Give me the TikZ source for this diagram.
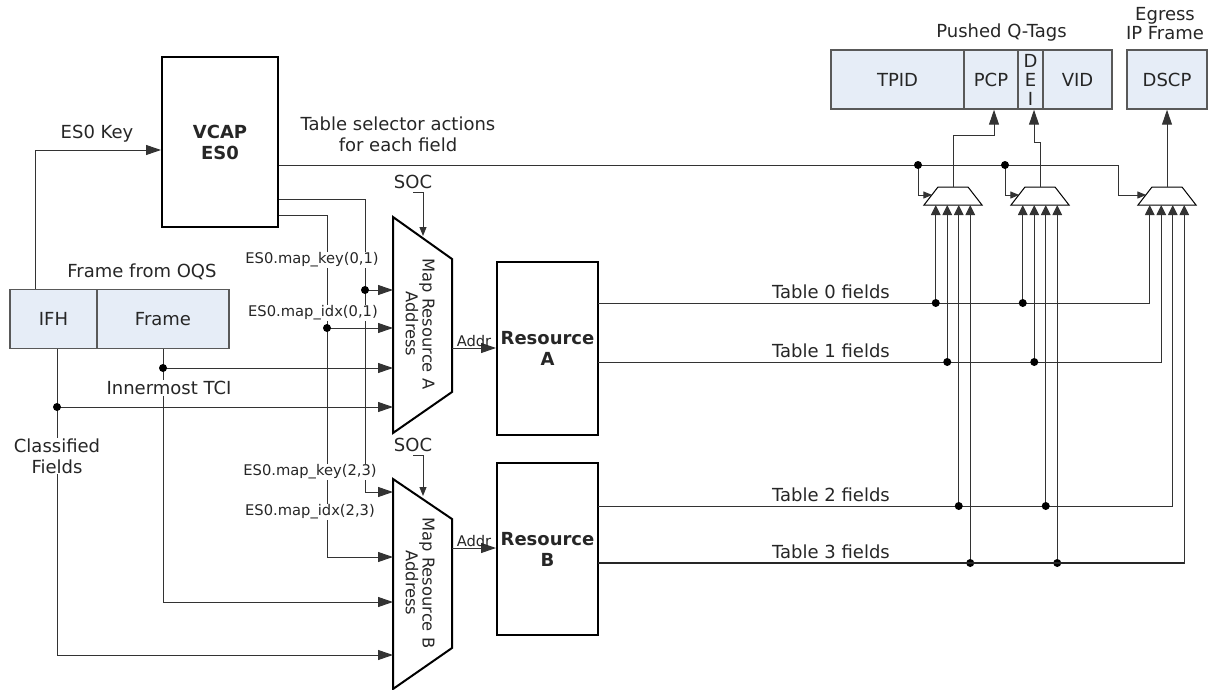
\documentclass[tikz,border=0pt]{standalone}
\usepackage{fontspec}
\setmainfont{DejaVu Sans}
\usepackage{tikz}
\usetikzlibrary{arrows.meta}
\definecolor{fieldblue}{RGB}{230,237,247}

\begin{document}
\begin{tikzpicture}[x=1pt, y=-1pt, >={Triangle[length=15pt,width=10pt]},
  font=\fontsize{18}{21}\selectfont, text=black!85,
  wire/.style={line width=1pt, draw=black!80},
  blkbox/.style={draw=black, line width=2pt, inner sep=0pt, align=center,
    font=\fontsize{18}{21}\selectfont\bfseries},
  fieldbox/.style={draw=black!65, line width=1.5pt, fill=fieldblue,
    inner sep=0pt, minimum height=59pt},
  small/.style={font=\fontsize{14.7}{17}\selectfont},
  gap/.style={fill=white, inner sep=1pt},
  junc/.style={circle, fill=black, inner sep=0pt, minimum size=8pt},
  sarr/.style={-{Triangle[length=10pt,width=9.5pt]}},
  selarr/.style={-{Triangle[length=9pt,width=7pt]}}]
  \useasboundingbox (0,0) rectangle (1215,690);

  % VCAP block and the two resources
  \node[blkbox, minimum width=116pt, minimum height=170pt] (vcap) at (220,142) {VCAP\\ES0};
  \node[blkbox, minimum width=101pt, minimum height=173pt] (resA) at (547.5,348.5) {Resource\\A};
  \node[blkbox, minimum width=101pt, minimum height=172pt] (resB) at (547.5,549) {Resource\\B};

  % Frame from OQS
  \node (oqs) at (142,272) {Frame from OQS};
  \node[fieldbox, minimum width=87pt] (ifh) at (53.5,319) {IFH};
  \node[fieldbox, minimum width=132pt] (frame) at (163,319) {Frame};

  % Pushed Q-Tags and egress frame
  \node (qtags) at (1001.5,33) {Pushed Q-Tags};
  \node[align=center, font=\fontsize{18}{19}\selectfont] (egress) at (1165,23.5) {Egress\\IP Frame};
  \node[fieldbox, minimum width=133pt] (tpid) at (897.5,79.5) {TPID};
  \node[fieldbox, minimum width=54pt] (pcp) at (991,79.5) {PCP};
  \node[fieldbox, minimum width=25pt, align=center, font=\fontsize{18}{19}\selectfont] (dei) at (1030.5,79.5) {D\\E\\I};
  \node[fieldbox, minimum width=69pt] (vid) at (1077.5,79.5) {VID};
  \node[fieldbox, minimum width=80pt] (dscp) at (1167,79.5) {DSCP};

  % Map resource address blocks
  \draw[line width=2pt] (393,217) -- (452,259) -- (452,392) -- (393,433) -- cycle;
  \draw[line width=2pt] (393,479) -- (452,519) -- (452,648) -- (393,689) -- cycle;
  \node[rotate=-90, align=center, font=\fontsize{16.3}{14}\selectfont] (mapA) at (420,324) {Map Resource A\\Address};
  \node[rotate=-90, align=center, font=\fontsize{16.3}{14}\selectfont] (mapB) at (420,583) {Map Resource B\\Address};
  \coordinate (aK) at (393,290); \coordinate (aI) at (393,328);
  \coordinate (aT) at (393,368); \coordinate (aC) at (393,407);
  \coordinate (bK) at (393,492); \coordinate (bI) at (393,557);
  \coordinate (bT) at (393,602); \coordinate (bC) at (393,655);
  \coordinate (keyx) at (365,0); \coordinate (idxx) at (327,0);

  % Muxes
  \foreach \n/\c in {1/953,2/1040,3/1167} {
    \draw[line width=1pt] (\c-29,205) -- (\c+29,205) -- (\c+15,187) -- (\c-15,187) -- cycle;
    \coordinate (mux\n) at (\c,187);
    \coordinate (mux\n-s) at (\c-20.7,195);
    \coordinate (mux\n-i0) at (\c-17.25,205);
    \coordinate (mux\n-i1) at (\c-5.75,205);
    \coordinate (mux\n-i2) at (\c+5.75,205);
    \coordinate (mux\n-i3) at (\c+17.25,205);
  }

  % ES0 key
  \draw[wire, ->] (ifh.north -| 35,0) |- ([yshift=-8pt]vcap.west);
  \node (eskey) at (97,134) {ES0 Key};

  % Table selector actions
  \node[align=center] (selact) at (398,134) {Table selector actions\\for each field};
  \coordinate (sel1) at (918,165); \coordinate (sel2) at (1005,165);
  \draw[wire, selarr] (vcap.east |- 0,165) -- (1118,165) |- (mux3-s);
  \draw[wire, selarr] (sel1) |- (mux1-s);
  \draw[wire, selarr] (sel2) |- (mux2-s);
  \node[junc] at (sel1) {};
  \node[junc] at (sel2) {};

  % Mux outputs
  \draw[wire, ->] (mux1) -- (953,136) -| ([xshift=3pt]pcp.south);
  \draw[wire, ->] (mux2) -- (1040,143) -| ([xshift=3.5pt]dei.south);
  \draw[wire, ->] (mux3) -- (dscp.south);

  % map key / map idx
  \draw[wire, ->] (vcap.east |- 0,199) -| (keyx |- bK) -- (bK);
  \draw[wire, ->] (keyx |- aK) -- (aK);
  \node[junc] at (keyx |- aK) {};
  \draw[wire, ->] (vcap.east |- 0,215) -| (idxx |- bI) -- (bI);
  \draw[wire, ->] (idxx |- aI) -- (aI);
  \node[junc] at (idxx |- aI) {};

  % Innermost TCI and classified fields
  \draw[wire, ->] (frame.south) |- (bT);
  \draw[wire, ->] (frame.south |- aT) -- (aT);
  \node[junc] at (frame.south |- aT) {};
  \draw[wire, ->] (ifh.south -| 57,0) |- (bC);
  \draw[wire, ->] (57,407) -- (aC);
  \node[junc] at (57,407) {};

  % labels on the left
  \node[gap, small] (keyA) at (312,260) {ES0.map\_key(0,1)};
  \node[gap, small] (idxA) at (313,313) {ES0.map\_idx(0,1)};
  \node[gap, small] (keyB) at (310,472) {ES0.map\_key(2,3)};
  \node[gap, small] (idxB) at (310,512) {ES0.map\_idx(2,3)};
  \node[gap] (tci) at (169,388) {Innermost TCI};
  \node[gap, align=center] (cls) at (57,456) {Classified\\Fields};

  % SOC
  \node (socA) at (413,182) {SOC};
  \node (socB) at (413,445) {SOC};
  \draw[wire, selarr] (socA.south) -| (423,236);
  \draw[wire, selarr] (socB.south) -| (423,496);

  % Addr
  \draw[wire, ->] (452,348) -- (resA.west |- 0,348) node[midway, above, small, inner sep=1pt] (addrA) {Addr};
  \draw[wire, ->] (452,548) -- (resB.west |- 0,548) node[midway, above, small, inner sep=1pt] (addrB) {Addr};

  % Table fields
  \foreach \k/\y in {0/303,1/362,2/506,3/563} {
    \coordinate (t\k) at (598,\y);
    \node (lab\k) at (831,\y-11.5) {Table \k\ fields};
    \draw[wire, sarr] (t\k) -| (mux3-i\k);
    \draw[wire, sarr] (mux1-i\k |- t\k) -- (mux1-i\k);
    \draw[wire, sarr] (mux2-i\k |- t\k) -- (mux2-i\k);
    \node[junc] at (mux1-i\k |- t\k) {};
    \node[junc] at (mux2-i\k |- t\k) {};
  }
  \draw[line width=1.8pt, black!85] (t3) -- (mux3-i3 |- t3);
\end{tikzpicture}
\end{document}
